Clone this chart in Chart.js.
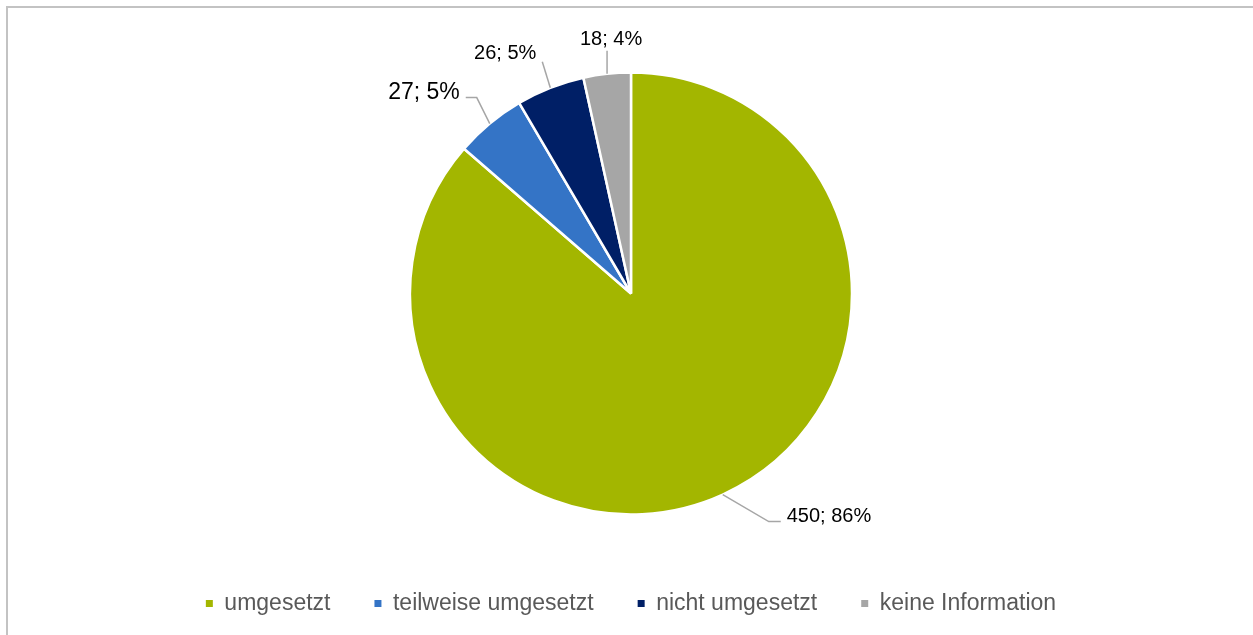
<!DOCTYPE html>
<html lang="de">
<head>
    <meta charset="UTF-8">
    <title>Umsetzung</title>
    <style>
        body { margin: 0; overflow: hidden; background: #fff; }
        #frame { position: absolute; left: 6px; top: 6px; width: 1300px; height: 700px;
                 border-top: 2px solid #c3c3c3; border-left: 2px solid #c3c3c3; }
        #wrap { position: absolute; left: 0; top: 0; }
    </style>
</head>
<body>

<div id="frame"></div>
<div id="wrap">
    <!-- Canvas for the pie chart -->
    <canvas id="pieChart" width="1253" height="625"></canvas>
</div>

<script src="https://cdn.jsdelivr.net/npm/chart.js"></script>

<script>
    // Chart data
    const categories = ["umgesetzt", "teilweise umgesetzt", "nicht umgesetzt", "keine Information"];
    const counts = [450, 27, 26, 18];
    const percentLabels = ["86%", "5%", "5%", "4%"];
    const sliceColors = ["#a3b600", "#3474c6", "#001f66", "#a6a6a6"];

    // Where each data label sits, relative to the middle of its slice edge
    const labelLayout = [
        { elbow: [46, 27], end: [58, 27], text: [64, 22], align: "left", size: 20 },
        { elbow: [-13, -26], end: [-24, -26], text: [-30, -31], align: "right", size: 23 },
        { elbow: [-8, -26], end: [-8, -26], text: [-14, -34], align: "right", size: 20 },
        { elbow: [0, -23], end: [0, -23], text: [4, -34], align: "center", size: 20 }
    ];

    // Plugin that draws "value; percent" labels with leader lines
    const leaderLabels = {
        id: "leaderLabels",
        afterDatasetsDraw(chart) {
            const ctx = chart.ctx;
            const meta = chart.getDatasetMeta(0);
            meta.data.forEach((arc, i) => {
                const p = arc.getProps(["x", "y", "startAngle", "endAngle", "outerRadius"], true);
                const mid = (p.startAngle + p.endAngle) / 2;
                const px = p.x + Math.cos(mid) * p.outerRadius;
                const py = p.y + Math.sin(mid) * p.outerRadius;
                const lay = labelLayout[i];

                ctx.save();
                ctx.strokeStyle = "#a6a6a6";
                ctx.lineWidth = 1.5;
                ctx.beginPath();
                ctx.moveTo(px, py);
                ctx.lineTo(px + lay.elbow[0], py + lay.elbow[1]);
                ctx.lineTo(px + lay.end[0], py + lay.end[1]);
                ctx.stroke();

                ctx.fillStyle = "#000";
                ctx.font = lay.size + "px 'Liberation Sans', Arial, sans-serif";
                ctx.textAlign = lay.align;
                ctx.textBaseline = "middle";
                ctx.fillText(counts[i] + "; " + percentLabels[i], px + lay.text[0], py + lay.text[1]);
                ctx.restore();
            });
        }
    };

    const ctxPie = document.getElementById("pieChart");

    const pieChart = new Chart(ctxPie, {
        type: "pie",
        data: {
            labels: categories,
            datasets: [{
                data: counts,
                backgroundColor: sliceColors,
                borderColor: "#ffffff",
                borderWidth: 2.5,
                radius: 221
            }]
        },
        options: {
            responsive: false,
            animation: false,
            layout: {
                padding: { top: 39, left: 9 }
            },
            plugins: {
                tooltip: { enabled: false },
                legend: {
                    position: "bottom",
                    labels: {
                        boxWidth: 7,
                        boxHeight: 7,
                        padding: 44,
                        color: "#595959",
                        font: { family: "'Liberation Sans', Arial, sans-serif", size: 23 },
                        generateLabels(chart) {
                            const items = Chart.overrides.pie.plugins.legend.labels.generateLabels(chart);
                            return items.map(item => ({ ...item, lineWidth: 0 }));
                        }
                    }
                }
            }
        },
        plugins: [leaderLabels]
    });
</script>

</body>
</html>
